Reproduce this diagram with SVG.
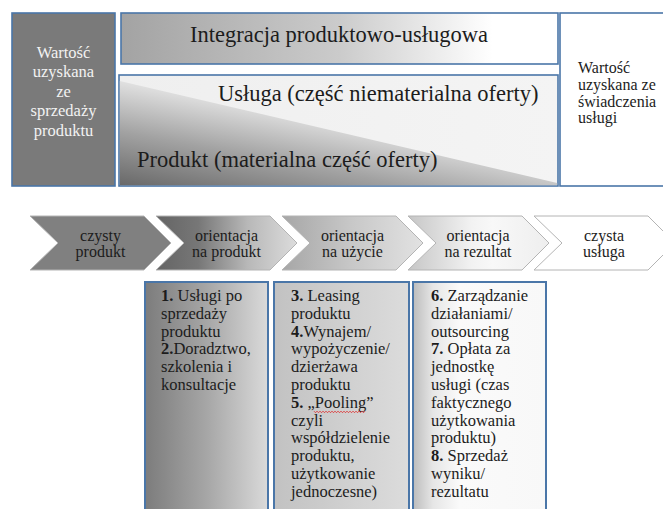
<svg xmlns="http://www.w3.org/2000/svg" width="663" height="509" viewBox="0 0 663 509" font-family="'Liberation Serif','Tinos','DejaVu Serif','Noto Serif',serif">
<style>
text{font-family:"Liberation Serif","Tinos","DejaVu Serif","Noto Serif",serif;fill:#1c1c1c}
.big{font-size:22.5px}
.t{font-size:16.5px}
.ch{font-size:16px}
.r{font-size:16px}
.c{text-anchor:middle}
.w{fill:#f2f2f2}
.b{font-weight:bold}
.box{stroke:#4a76a8;stroke-width:1.6}
.bbox{stroke:#4a76a8;stroke-width:2}
.chev{stroke:#b4b4b4;stroke-width:1}
</style>
<defs>
<linearGradient id="gTop" x1="0" y1="0" x2="1" y2="0">
<stop offset="0" stop-color="#a3a3a3"/><stop offset="0.5" stop-color="#cbcbcb"/><stop offset="0.85" stop-color="#ffffff"/><stop offset="1" stop-color="#ffffff"/>
</linearGradient>
<linearGradient id="gUp" x1="0" y1="0" x2="1" y2="0">
<stop offset="0" stop-color="#efefef"/><stop offset="1" stop-color="#f4f4f4"/>
</linearGradient>
<linearGradient id="gLow" gradientUnits="userSpaceOnUse" x1="119" y1="186" x2="139" y2="80">
<stop offset="0" stop-color="#686868"/><stop offset="0.5" stop-color="#a2a2a2"/><stop offset="1" stop-color="#e6e6e6"/>
</linearGradient>
<linearGradient id="gC2" x1="0" y1="0" x2="1" y2="0">
<stop offset="0" stop-color="#646464"/><stop offset="0.3" stop-color="#777777"/><stop offset="0.65" stop-color="#b8b8b8"/><stop offset="1" stop-color="#dcdcdc"/>
</linearGradient>
<linearGradient id="gC3" x1="0" y1="0" x2="1" y2="0">
<stop offset="0" stop-color="#a6a6a6"/><stop offset="0.5" stop-color="#c8c8c8"/><stop offset="1" stop-color="#e2e2e2"/>
</linearGradient>
<linearGradient id="gC4" x1="0" y1="0" x2="1" y2="0">
<stop offset="0" stop-color="#c6c6c6"/><stop offset="0.45" stop-color="#f2f2f2"/><stop offset="0.6" stop-color="#f8f8f8"/><stop offset="1" stop-color="#eeeeee"/>
</linearGradient>
<linearGradient id="gB1" x1="0" y1="0" x2="1" y2="0">
<stop offset="0" stop-color="#7c7c7c"/><stop offset="0.5" stop-color="#a6a6a6"/><stop offset="1" stop-color="#dadada"/>
</linearGradient>
<linearGradient id="gB2" x1="0" y1="0" x2="1" y2="0">
<stop offset="0" stop-color="#c2c2c2"/><stop offset="1" stop-color="#dcdcdc"/>
</linearGradient>
<linearGradient id="gB3" x1="0" y1="0" x2="1" y2="0">
<stop offset="0" stop-color="#bcbcbc"/><stop offset="0.15" stop-color="#e6e6e6"/><stop offset="0.35" stop-color="#fafafa"/><stop offset="1" stop-color="#f8f8f8"/>
</linearGradient>
</defs>
<rect width="663" height="509" fill="#ffffff"/>

<g id="value-product">
<rect class="box" x="12" y="13" width="103" height="173" fill="#7a7a7a"/>
<text class="t c w" x="63.5" y="57.5">Wartość</text>
<text class="t c w" x="63.5" y="77">uzyskana</text>
<text class="t c w" x="63.5" y="96.5">ze</text>
<text class="t c w" x="63.5" y="116">sprzedaży</text>
<text class="t c w" x="63.5" y="135.5">produktu</text>
</g>

<g id="integration">
<rect class="box" x="121" y="13" width="437" height="51" fill="url(#gTop)"/>
<text class="big c" x="339" y="42">Integracja produktowo-usługowa</text>
</g>

<g id="service-product">
<rect class="box" x="119" y="75" width="439" height="111" fill="url(#gUp)"/>
<polygon points="119.8,81 557.2,183 557.2,185.2 119.8,185.2" fill="url(#gLow)"/>
<text class="big" x="218" y="101">Usługa (część niematerialna oferty)</text>
<text class="big" x="137" y="167">Produkt (materialna część oferty)</text>
</g>

<g id="value-service">
<rect class="box" x="560" y="13" width="110" height="173" fill="#ffffff"/>
<text class="r" x="578" y="72.5">Wartość</text>
<text class="r" x="578" y="89.5">uzyskana ze</text>
<text class="r" x="578" y="106.5">świadczenia</text>
<text class="r" x="578" y="123">usługi</text>
</g>

<g id="chevron-1">
<polygon class="chev" points="30,216 144,216 171,243 144,270 30,270 58,243" fill="#808080"/>
<text class="ch c" x="100.5" y="240.5">czysty</text>
<text class="ch c" x="100.5" y="257">produkt</text>
</g>
<g id="chevron-2">
<polygon class="chev" points="156,216 270,216 297,243 270,270 156,270 184,243" fill="url(#gC2)"/>
<text class="ch c" x="226.5" y="240.5">orientacja</text>
<text class="ch c" x="226.5" y="257">na produkt</text>
</g>
<g id="chevron-3">
<polygon class="chev" points="282,216 396,216 423,243 396,270 282,270 310,243" fill="url(#gC3)"/>
<text class="ch c" x="352.5" y="240.5">orientacja</text>
<text class="ch c" x="352.5" y="257">na użycie</text>
</g>
<g id="chevron-4">
<polygon class="chev" points="408,216 522,216 549,243 522,270 408,270 436,243" fill="url(#gC4)"/>
<text class="ch c" x="478" y="240.5">orientacja</text>
<text class="ch c" x="478" y="257">na rezultat</text>
</g>
<g id="chevron-5">
<polygon class="chev" points="534,216 648,216 675,243 648,270 534,270 562,243" fill="#ffffff"/>
<text class="ch c" x="604" y="240.5">czysta</text>
<text class="ch c" x="604" y="257">usługa</text>
</g>

<g id="box-product">
<rect class="bbox" x="145" y="282" width="123" height="240" fill="url(#gB1)"/>
<text class="t" x="161" y="301"><tspan class="b">1.</tspan> Usługi po</text>
<text class="t" x="161" y="318.8">sprzedaży</text>
<text class="t" x="161" y="336.6">produktu</text>
<text class="t" x="161" y="354.4"><tspan class="b">2.</tspan>Doradztwo,</text>
<text class="t" x="161" y="372.2">szkolenia i</text>
<text class="t" x="161" y="390">konsultacje</text>
</g>

<g id="box-use">
<rect class="bbox" x="274" y="282" width="135" height="240" fill="url(#gB2)"/>
<text class="t" x="291" y="301"><tspan class="b">3.</tspan>  Leasing</text>
<text class="t" x="291" y="318.8">produktu</text>
<text class="t" x="291" y="336.6"><tspan class="b">4.</tspan>Wynajem/</text>
<text class="t" x="291" y="354.4">wypożyczenie/</text>
<text class="t" x="291" y="372.2">dzierżawa</text>
<text class="t" x="291" y="390">produktu</text>
<text class="t" x="291" y="407.8"><tspan class="b">5.</tspan> „Pooling”</text>
<path d="M314 411.2 l1.5 1.5 1.5 -1.5 1.5 1.5 1.5 -1.5 1.5 1.5 1.5 -1.5 1.5 1.5 1.5 -1.5 1.5 1.5 1.5 -1.5 1.5 1.5 1.5 -1.5 1.5 1.5 1.5 -1.5 1.5 1.5 1.5 -1.5 1.5 1.5 1.5 -1.5 1.5 1.5 1.5 -1.5 1.5 1.5 1.5 -1.5 1.5 1.5 1.5 -1.5 1.5 1.5 1.5 -1.5 1.5 1.5 1.5 -1.5 1.5 1.5 1.5 -1.5 1.5 1.5 1.5 -1.5 1.5 1.5 1.5 -1.5" fill="none" stroke="#e03030" stroke-width="0.9"/>
<text class="t" x="291" y="425.6">czyli</text>
<text class="t" x="291" y="443.4">współdzielenie</text>
<text class="t" x="291" y="461.2">produktu,</text>
<text class="t" x="291" y="479">użytkowanie</text>
<text class="t" x="291" y="496.8">jednoczesne)</text>
</g>

<g id="box-result">
<rect class="bbox" x="413" y="282" width="133" height="240" fill="url(#gB3)"/>
<text class="t" x="431" y="301"><tspan class="b">6.</tspan> Zarządzanie</text>
<text class="t" x="431" y="318.8">działaniami/</text>
<text class="t" x="431" y="336.6">outsourcing</text>
<text class="t" x="431" y="354.4"><tspan class="b">7.</tspan> Opłata za</text>
<text class="t" x="431" y="372.2">jednostkę</text>
<text class="t" x="431" y="390">usługi (czas</text>
<text class="t" x="431" y="407.8">faktycznego</text>
<text class="t" x="431" y="425.6">użytkowania</text>
<text class="t" x="431" y="443.4">produktu)</text>
<text class="t" x="431" y="461.2"><tspan class="b">8.</tspan> Sprzedaż</text>
<text class="t" x="431" y="479">wyniku/</text>
<text class="t" x="431" y="496.8">rezultatu</text>
</g>

<g id="connectors"/>
</svg>
